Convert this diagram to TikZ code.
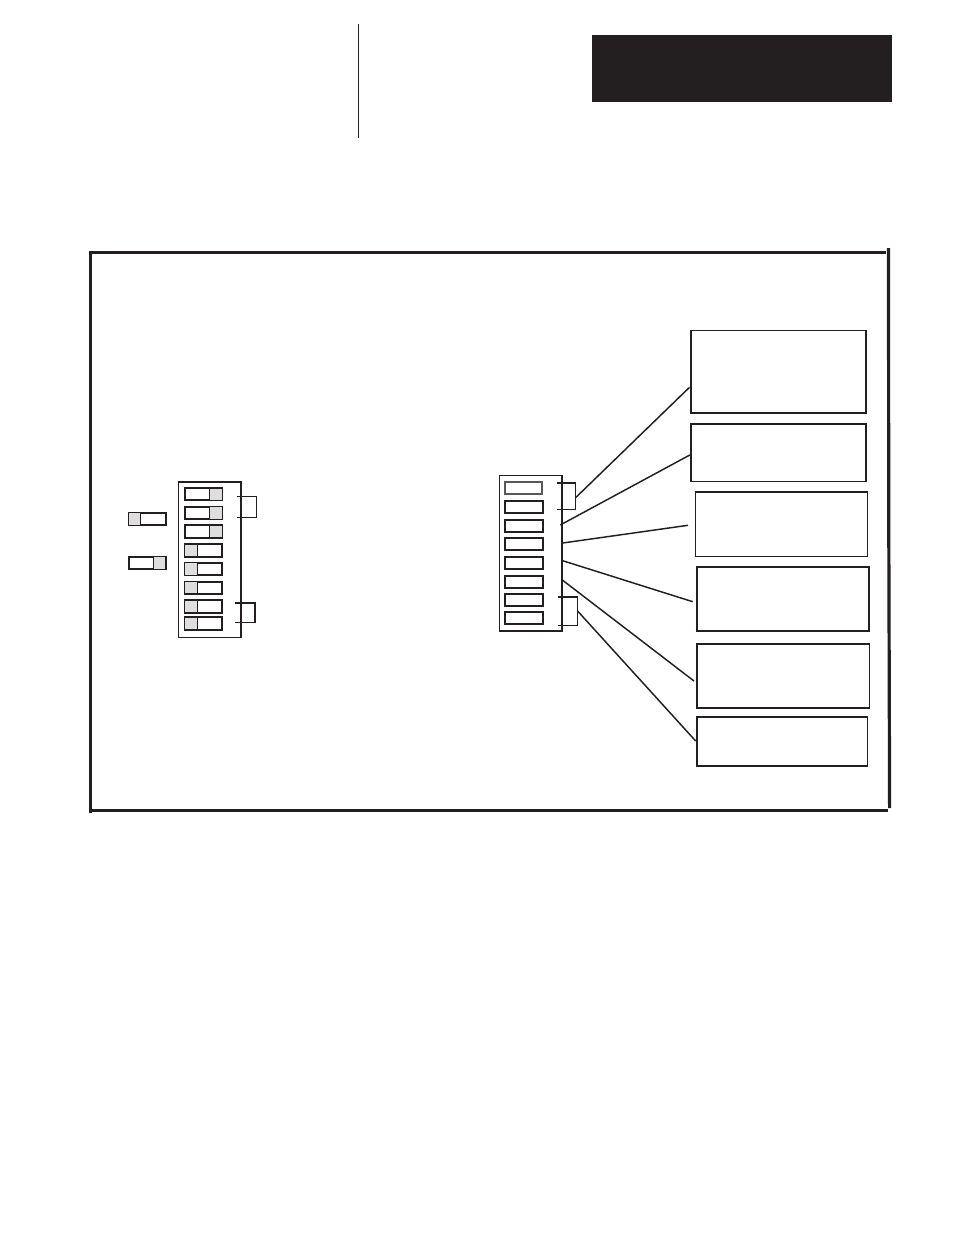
\documentclass[tikz,border=0pt]{standalone}
\definecolor{ink}{HTML}{231F20}
\definecolor{shade}{HTML}{DEDEDE}
\newcommand\bx[6]{\node[#6,minimum width={(#4-#2)*0.75pt},minimum height={(#5-#3)*0.75pt}] (#1) at ({(#2+#4)/2},{(#3+#5)/2}) {};}
\tikzset{
  x=0.75pt,y=-0.75pt,
  base/.style={draw=ink,rectangle,inner sep=0pt,outer sep=0pt,fill=white},
  block/.style={base,line width=1.15pt},
  sw/.style={base,line width=1.35pt},
  swlight/.style={base,line width=1.25pt,draw=ink!75},
  grey/.style={base,fill=shade,line width=0.9pt},
  card/.style={base,line width=1.2pt},
  cardthin/.style={base,line width=0.95pt},
  cardthick/.style={base,line width=1.5pt},
  wire/.style={draw=ink,line width=1.1pt},
  frameline/.style={draw=ink,line width=2.4pt},
  solid box/.style={rectangle,fill=ink,inner sep=0pt,outer sep=0pt}
}
\begin{document}
\begin{tikzpicture}
\useasboundingbox (0,0) rectangle (954,1235);
% header
\bx{header}{592}{35}{892}{102}{solid box}
\coordinate (ruleA) at (358.5,24);
\coordinate (ruleB) at (358.5,137.5);
\draw[draw=ink,line width=0.8pt] (ruleA) -- (ruleB);
% frame
\coordinate (fTLx) at (88.8,252.5);
\coordinate (fTR) at (886,252.5);
\coordinate (fLT) at (90.5,251);
\coordinate (fBL) at (90.5,812.5);
\coordinate (fBLx) at (89.5,810.3);
\coordinate (fBR) at (888,810.3);
\coordinate (fRT) at (888.5,248);
\coordinate (fRM) at (888.7,500);
\coordinate (fRB) at (889.6,808);
\draw[frameline] (fTLx) -- (fTR);
\draw[frameline] (fLT) -- (fBL);
\draw[frameline] (fBLx) -- (fBR);
\draw[frameline] (fRT) -- (fRM) -- (fRB);
% left block
\bx{lb}{178.7}{482}{241}{637.7}{block}
\bx{l1}{184.7}{488.3}{222.3}{500.3}{sw}
\bx{l1g}{209.7}{488.3}{222.3}{500.3}{grey}
\bx{l2}{184.7}{506.7}{222.3}{519.3}{sw}
\bx{l2g}{209.7}{506.7}{222.3}{519.3}{grey}
\bx{l3}{184.7}{525.3}{222.3}{538}{sw}
\bx{l3g}{209.7}{525.3}{222.3}{538}{grey}
\bx{l4}{184.7}{544.3}{222.3}{557}{sw}
\bx{l4g}{184.7}{544.3}{197.3}{557}{grey}
\bx{l5}{184.7}{562.7}{222.3}{575.3}{sw}
\bx{l5g}{184.7}{562.7}{197.3}{575.3}{grey}
\bx{l6}{184.7}{581.7}{222.3}{594}{sw}
\bx{l6g}{184.7}{581.7}{197.3}{594}{grey}
\bx{l7}{184.7}{600.3}{222.3}{613}{sw}
\bx{l7g}{184.7}{600.3}{197.3}{613}{grey}
\bx{l8}{184.7}{617.3}{222.3}{630}{sw}
\bx{l8g}{184.7}{617.3}{197.3}{630}{grey}
% legend
\bx{k1}{128.7}{512.7}{166}{525.3}{sw}
\bx{k1g}{128.7}{512.7}{140.7}{525.3}{grey}
\bx{k2}{128.7}{556.7}{166}{569.3}{sw}
\bx{k2g}{153.7}{556.7}{166}{569.3}{grey}
% left brackets
\coordinate (bA1) at (236.7,496.7);
\coordinate (bA2) at (256.3,496.7);
\coordinate (bA3) at (256.3,517.3);
\coordinate (bA4) at (236.7,517.3);
\draw[wire] (bA1) -- (bA2) -- (bA3) -- (bA4);
\coordinate (bB1) at (235,603);
\coordinate (bB2) at (255,603);
\coordinate (bB3) at (255,622.3);
\coordinate (bB4) at (235,622.3);
\draw[wire] (bB1) -- (bB2) -- (bB3) -- (bB4);
% centre block
\bx{cb}{499.3}{475.7}{562}{631}{block}
\bx{c1}{504.7}{481.7}{542.3}{494}{swlight}
\bx{c2}{505}{500.7}{543}{513}{sw}
\bx{c3}{505}{519.7}{543}{532}{sw}
\bx{c4}{505}{537.7}{543}{550.3}{sw}
\bx{c5}{505}{556.7}{543}{569.3}{sw}
\bx{c6}{505}{575.7}{543}{588}{sw}
\bx{c7}{505}{594}{543}{606.3}{sw}
\bx{c8}{505}{611.7}{543}{624}{sw}
% centre brackets
\coordinate (bC1) at (556.7,483);
\coordinate (bC2) at (575.7,483);
\coordinate (bC3) at (575.7,509.3);
\coordinate (bC4) at (556.7,509.3);
\draw[wire] (bC1) -- (bC2) -- (bC3) -- (bC4);
\coordinate (bD1) at (558.3,597);
\coordinate (bD2) at (577.3,597);
\coordinate (bD3) at (577.3,625.3);
\coordinate (bD4) at (558.3,625.3);
\draw[wire] (bD1) -- (bD2) -- (bD3) -- (bD4);
% cards
\bx{r1}{690.7}{330.3}{866}{412.7}{card}
\bx{r2}{690.7}{423.7}{866}{481.3}{card}
\bx{r3}{695.3}{492}{867.3}{556.3}{cardthin}
\bx{r4}{696.7}{567}{869.3}{631.3}{cardthick}
\bx{r5}{696.7}{643.7}{869.3}{708}{card}
\bx{r6}{696.7}{717}{867.3}{765.7}{card}
% connectors
\coordinate (s1) at (576,497.3);
\coordinate (e1) at (689.5,387.3);
\coordinate (s2) at (560.3,525);
\coordinate (e2) at (689.8,455);
\coordinate (s3) at (562.7,543);
\coordinate (e3) at (688,525.3);
\coordinate (s4) at (562.7,560.7);
\coordinate (e4) at (692.7,601.7);
\coordinate (s5) at (562.7,580.3);
\coordinate (e5) at (694,681);
\coordinate (s6) at (577.3,610.7);
\coordinate (e6) at (695.7,741);
\draw[wire] (s1) -- (e1);
\draw[wire] (s2) -- (e2);
\draw[wire] (s3) -- (e3);
\draw[wire] (s4) -- (e4);
\draw[wire] (s5) -- (e5);
\draw[wire] (s6) -- (e6);
\end{tikzpicture}
\end{document}
